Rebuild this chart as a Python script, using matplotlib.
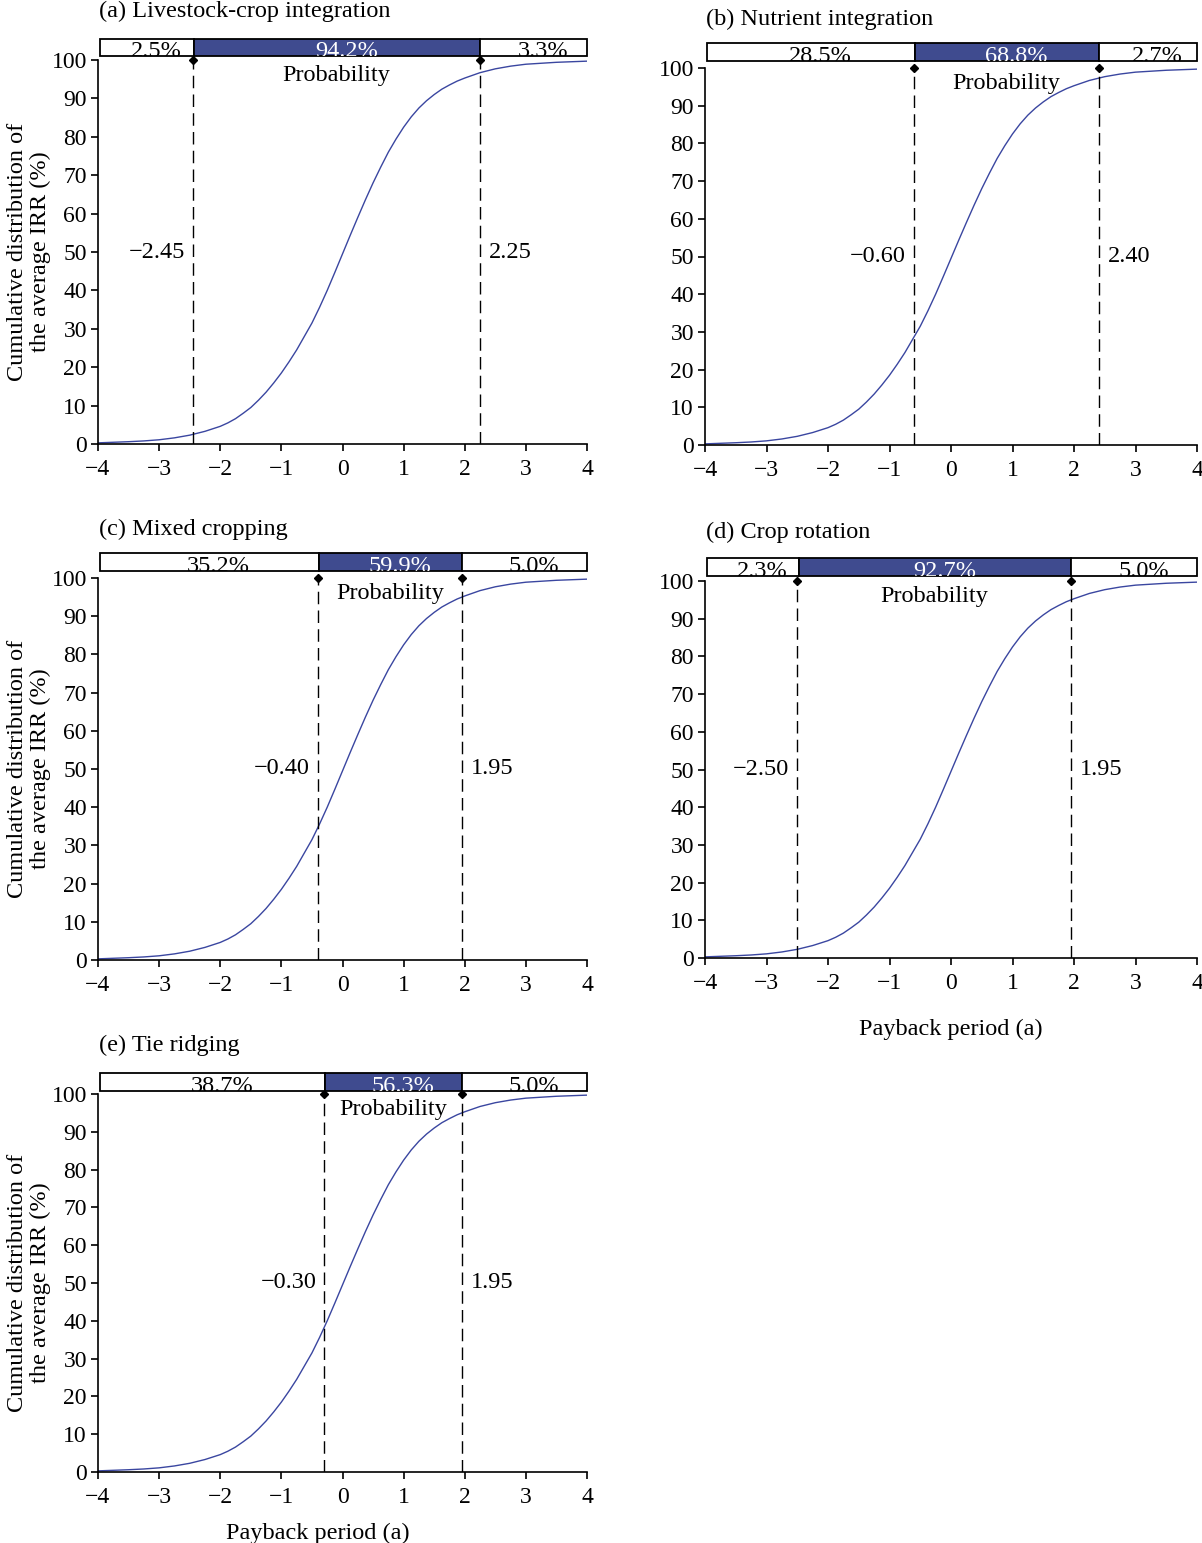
import numpy as np
import matplotlib.pyplot as plt

plt.rcParams['font.family'] = ['Liberation Serif', 'DejaVu Serif']
plt.rcParams['font.size'] = 17.5
plt.rcParams['axes.linewidth'] = 1.2
plt.rcParams['axes.unicode_minus'] = True

# cumulative curve (same shape in all five)
payback = [-4.0, -3.75, -3.5, -3.25, -3.0, -2.75, -2.5, -2.25, -2.0, -1.875,
           -1.75, -1.625, -1.5, -1.375, -1.25, -1.125, -1.0, -0.875, -0.75, -0.625,
           -0.5, -0.375, -0.25, -0.125, 0.0, 0.125, 0.25, 0.375, 0.5, 0.625,
           0.75, 0.875, 1.0, 1.125, 1.25, 1.375, 1.5, 1.625, 1.75, 1.875,
           2.0, 2.25, 2.5, 2.75, 3.0, 3.5, 4.0]
cum_prob = [0.3, 0.45, 0.6, 0.8, 1.1, 1.6, 2.3, 3.3, 4.6, 5.5,
            6.6, 8.0, 9.5, 11.4, 13.5, 15.9, 18.5, 21.4, 24.5, 28.0,
            31.5, 35.6, 40.0, 44.7, 49.5, 54.3, 59.0, 63.6, 68.0, 72.1,
            76.0, 79.4, 82.5, 85.2, 87.5, 89.4, 91.0, 92.4, 93.5, 94.5,
            95.3, 96.7, 97.7, 98.4, 98.9, 99.4, 99.7]

titles = ['(a) Livestock-crop integration', '(b) Nutrient integration',
          '(c) Mixed cropping', '(d) Crop rotation', '(e) Tie ridging']
lower = [-2.45, -0.60, -0.40, -2.50, -0.30]
upper = [2.25, 2.40, 1.95, 1.95, 1.95]
p_low = [2.5, 28.5, 35.2, 2.3, 38.7]
p_mid = [94.2, 68.8, 59.9, 92.7, 56.3]
p_high = [3.3, 2.7, 5.0, 5.0, 5.0]

W, H = 1202, 1543
# pixel boxes: left, right, top(y=100), bottom(y=0), bar top, bar bottom
boxes = [(98, 587, 60, 444, 39, 56),
         (705, 1197, 68, 445, 43, 61),
         (98, 587, 578, 960, 553, 571),
         (705, 1197, 581, 958, 558, 576),
         (98, 587, 1094, 1472, 1073, 1091)]

blue = '#3f4b8f'
fig = plt.figure(figsize=(W / 100, H / 100), dpi=100)

for i in range(5):
    l, r, t, b, bt, bb = boxes[i]
    ax = fig.add_axes([l / W, 1 - b / H, (r - l) / W, (b - t) / H])
    ax.plot(payback, cum_prob, color='#3a46a0', lw=1.0)
    for xv in (lower[i], upper[i]):
        ax.plot([xv, xv], [0, 100], color='black', lw=1.0, ls=(0, (9, 4.5)))
        ax.plot([xv], [100], marker='D', ms=4.5, color='black', clip_on=False)
    ax.set_xlim(-4, 4)
    ax.set_ylim(0, 100)
    ax.set_xticks(range(-4, 5))
    ax.set_yticks(range(0, 101, 10))
    ax.spines['top'].set_visible(False)
    ax.spines['right'].set_visible(False)
    ax.tick_params(direction='out', length=5, width=1.2, labelsize=17)
    ax.tick_params(axis='x', pad=6)
    ax.tick_params(axis='y', pad=3)
    ax.text(lower[i] - 0.13, 50, '\u2212%.2f' % abs(lower[i]), ha='right', va='center')
    ax.text(upper[i] + 0.15, 50, '%.2f' % upper[i], ha='left', va='center')
    ax.text((lower[i] + upper[i]) / 2, 96, 'Probability', ha='center', va='center')
    if i in (0, 2, 4):
        ax.set_ylabel('Cumulative distribution of\nthe average IRR (%)', linespacing=1.12)
        ax.yaxis.set_label_coords((51 - l) / (r - l), 0.5)
    if i == 3:
        ax.set_xlabel('Payback period (a)', labelpad=18)
    if i == 4:
        ax.set_xlabel('Payback period (a)', labelpad=14)
        ax.xaxis.set_label_coords(0.45, -0.135)
    fig.text(l / W + 0.001, 1 - (t - 49) / H, titles[i], ha='left', va='center')

    # probability bar on top
    bx = fig.add_axes([(l + 2) / W, 1 - bb / H, (r - l - 2) / W, (bb - bt) / H])
    segs = [(-4, lower[i], 'white'), (lower[i], upper[i], blue), (upper[i], 4, 'white')]
    labs = [p_low[i], p_mid[i], p_high[i]]
    for (x0, x1, c), pv in zip(segs, labs):
        bx.barh(0.5, x1 - x0, left=x0, height=1, color=c, edgecolor='black', lw=1.3,
                clip_on=False)
        tc = 'white' if c == blue else 'black'
        bx.text((x0 + x1) / 2 + 0.15, -0.05, '%.1f%%' % pv, ha='center', va='baseline',
                color=tc, clip_on=True)
    bx.set_xlim(-4, 4)
    bx.set_ylim(0, 1)
    bx.axis('off')

plt.savefig('out.png', dpi=100)
